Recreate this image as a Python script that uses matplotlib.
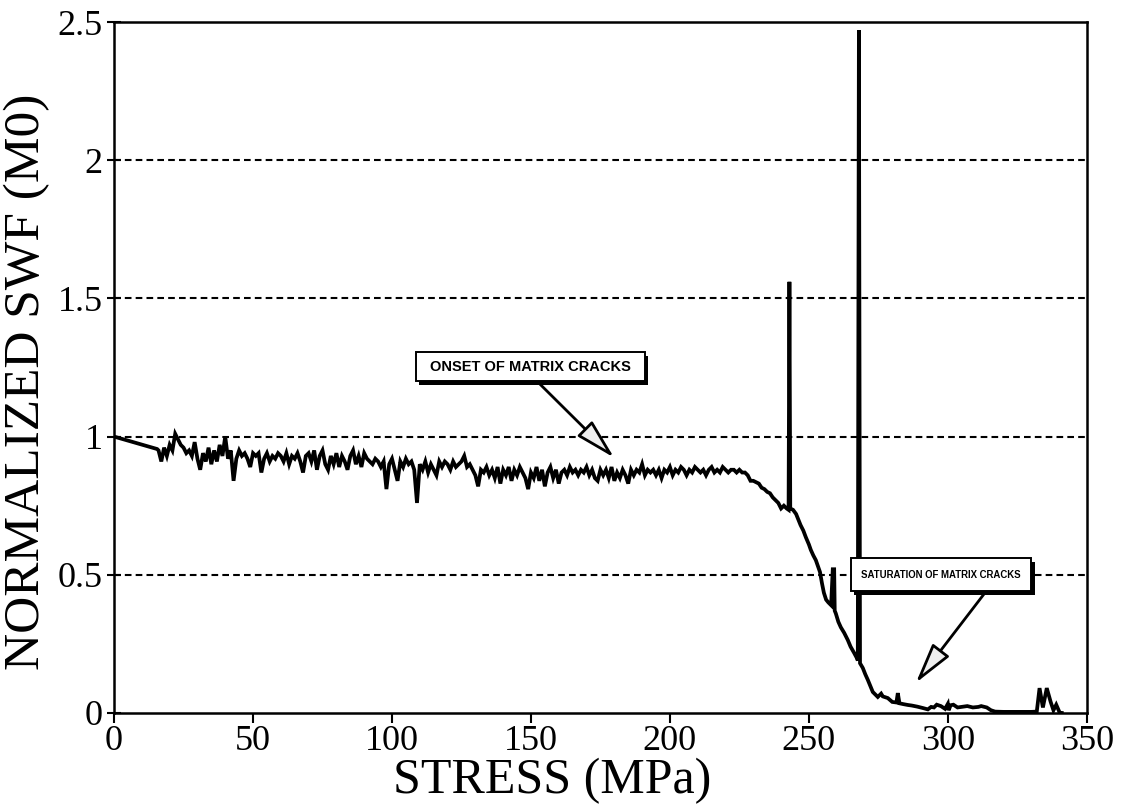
import matplotlib
matplotlib.use("Agg")
import matplotlib.pyplot as plt
import matplotlib.patheffects as pe
from matplotlib.patches import Rectangle
import numpy as np

# Normalized strain-wave-factor (M0) vs applied stress, three stretches of the record.
plateau_stress = [
    0, 15.5, 16, 17, 18, 19, 20, 21, 22, 23, 24, 25, 26, 27, 28, 29, 30, 31, 32, 33,
    34, 35, 36, 37, 38, 39, 40, 41, 42, 43, 44, 45, 46, 47, 48, 49, 50, 51, 52, 53,
    54, 55, 56, 57, 58, 59, 60, 61, 62, 63, 64, 65, 66, 67, 68, 69, 70, 71, 72, 73,
    74, 75, 76, 77, 78, 79, 80, 81, 82, 83, 84, 85, 86, 87, 88, 89, 90, 91, 92, 93,
    94, 95, 96, 97, 98, 99, 100, 101, 102, 103, 104, 105, 106, 107, 108, 109, 110, 111, 112, 113,
    114, 115, 116, 117, 118, 119, 120, 121, 122, 123, 124, 125, 126, 127, 128, 129, 130, 131, 132, 133,
    134, 135, 136, 137, 138, 139, 140, 141, 142, 143, 144, 145, 146, 147, 148, 149, 150, 151, 152, 153,
    154, 155, 156, 157, 158, 159, 160, 161, 162, 163, 164, 165, 166, 167, 168, 169, 170, 171, 172, 173,
    174, 175, 176, 177, 178, 179, 180, 181, 182, 183, 184, 185, 186, 187, 188, 189, 190, 191, 192, 193,
    194, 195, 196, 197, 198, 199, 200, 201, 202, 203, 204, 205, 206, 207, 208, 209, 210, 211, 212, 213,
    214, 215, 216, 217, 218, 219, 220, 221, 222, 223, 224, 225, 226, 227, 228,
]
plateau_swf = [
    1.00, 0.955, 0.95, 0.91, 0.96, 0.93, 0.97, 0.95, 1.01, 0.99, 0.97, 0.96, 0.94, 0.95, 0.93, 0.98, 0.92, 0.88, 0.94, 0.91,
    0.96, 0.90, 0.95, 0.91, 0.97, 0.93, 1.00, 0.92, 0.95, 0.84, 0.92, 0.95, 0.93, 0.94, 0.92, 0.89, 0.94, 0.93, 0.94, 0.87,
    0.92, 0.94, 0.91, 0.93, 0.92, 0.94, 0.93, 0.91, 0.94, 0.90, 0.93, 0.92, 0.94, 0.91, 0.87, 0.93, 0.94, 0.91, 0.95, 0.88,
    0.93, 0.95, 0.90, 0.88, 0.93, 0.90, 0.94, 0.89, 0.93, 0.91, 0.88, 0.93, 0.95, 0.90, 0.93, 0.89, 0.94, 0.92, 0.91, 0.90,
    0.92, 0.91, 0.89, 0.91, 0.81, 0.90, 0.92, 0.88, 0.84, 0.91, 0.89, 0.92, 0.90, 0.91, 0.88, 0.76, 0.90, 0.88, 0.91, 0.87,
    0.90, 0.88, 0.86, 0.91, 0.89, 0.91, 0.90, 0.88, 0.91, 0.89, 0.90, 0.91, 0.93, 0.89, 0.90, 0.88, 0.86, 0.82, 0.88, 0.87,
    0.89, 0.86, 0.88, 0.85, 0.89, 0.83, 0.88, 0.86, 0.89, 0.84, 0.88, 0.86, 0.89, 0.87, 0.85, 0.81, 0.87, 0.85, 0.89, 0.84,
    0.88, 0.82, 0.87, 0.89, 0.85, 0.88, 0.83, 0.87, 0.88, 0.86, 0.89, 0.87, 0.88, 0.86, 0.88, 0.87, 0.89, 0.86, 0.88, 0.85,
    0.84, 0.88, 0.86, 0.88, 0.85, 0.89, 0.84, 0.87, 0.85, 0.88, 0.86, 0.83, 0.88, 0.86, 0.88, 0.87, 0.90, 0.86, 0.88, 0.87,
    0.88, 0.86, 0.88, 0.85, 0.88, 0.87, 0.89, 0.86, 0.88, 0.87, 0.89, 0.88, 0.86, 0.88, 0.87, 0.89, 0.88, 0.87, 0.88, 0.86,
    0.88, 0.89, 0.87, 0.88, 0.87, 0.89, 0.88, 0.87, 0.88, 0.88, 0.87, 0.88, 0.87, 0.87, 0.86,
]

knee_stress = [
    229, 230, 231, 232, 233, 234, 235, 236, 237, 238, 239, 240, 241, 242, 242.7, 243.0, 243.3, 244.3, 245.4, 246.2,
    247, 248, 248.9, 250, 250.7, 251.6, 252.5, 253.3, 254, 254.7, 255.4, 256.2, 257, 258, 258.6, 259.1, 259.3, 259.7, 260.6, 261.5,
    262.7, 264, 265, 266.3, 267.2, 267.6, 268.0, 268.4, 269.4, 270.3, 271.2, 272, 273, 274, 274.8, 276, 276.6, 277.5, 278.4, 280,
    281.5, 282, 282.6, 284, 285.6, 287, 289, 291, 292.8, 294, 295,
]
knee_swf = [
    0.84, 0.84, 0.835, 0.83, 0.815, 0.81, 0.80, 0.795, 0.78, 0.77, 0.76, 0.74, 0.75, 0.74, 0.735, 1.56, 0.74, 0.735, 0.72, 0.70,
    0.68, 0.66, 0.636, 0.61, 0.59, 0.57, 0.553, 0.53, 0.51, 0.47, 0.435, 0.41, 0.40, 0.39, 0.52, 0.52, 0.37, 0.36, 0.33, 0.31,
    0.29, 0.264, 0.24, 0.217, 0.20, 0.19, 2.47, 0.18, 0.163, 0.14, 0.12, 0.10, 0.076, 0.066, 0.058, 0.07, 0.06, 0.057, 0.054, 0.04,
    0.038, 0.072, 0.035, 0.032, 0.029, 0.027, 0.023, 0.018, 0.013, 0.022, 0.02,
]

tail_stress = [
    296, 297.5, 299, 300, 300.3, 301, 302, 303.5, 305, 307, 309, 311, 312, 314, 315.5, 317, 320, 325, 330, 332,
    333, 334.2, 335.6, 337, 338, 339, 340.3, 341,
]
tail_swf = [
    0.03, 0.025, 0.015, 0.033, 0.01, 0.028, 0.03, 0.02, 0.022, 0.025, 0.02, 0.022, 0.025, 0.02, 0.01, 0.005, 0.004, 0.004, 0.004, 0.005,
    0.09, 0.02, 0.09, 0.04, 0.01, 0.03, 0.0, 0.0,
]

stress = np.array(plateau_stress + knee_stress + tail_stress)
swf = np.array(plateau_swf + knee_swf + tail_swf)

y_grid = [0.5, 1.0, 1.5, 2.0]
x_ticks = [0, 50, 100, 150, 200, 250, 300, 350]
y_ticks = [0, 0.5, 1, 1.5, 2, 2.5]
y_tick_labels = ["0", "0.5", "1", "1.5", "2", "2.5"]

# callout boxes: (x0, y0, width, height) in data units, arrow start as box fraction, arrow tip
onset_text = "ONSET OF MATRIX CRACKS"
onset_box = (108.5, 1.2, 82.5, 0.105)
onset_relx = 0.53
onset_tip = (179.9, 0.924)

sat_text = "SATURATION OF MATRIX CRACKS"
sat_box = (265.0, 0.44, 65.0, 0.12)
sat_relx = 0.75
sat_tip = (288.5, 0.109)

plt.rcParams["font.family"] = ["Liberation Serif", "DejaVu Serif"]

fig = plt.figure(figsize=(11.44, 8.06), dpi=100)
ax = fig.add_axes([0.0997, 0.1154, 0.8503, 0.8573])

for yg in y_grid:
    ax.axhline(yg, color="black", lw=1.5, ls=(0, (3.2, 2.0)), zorder=1)

ax.plot(stress, swf, color="black", lw=2.7, solid_joinstyle="miter", zorder=3)

ax.set_xlim(0, 350)
ax.set_ylim(0, 2.5)
ax.set_xticks(x_ticks)
ax.set_yticks(y_ticks)
ax.set_yticklabels(y_tick_labels)
ax.tick_params(axis="x", direction="out", length=7, width=1.5, labelsize=26, pad=2)
ax.tick_params(axis="y", direction="inout", length=10, width=1.5, labelsize=26, pad=3)
for sp in ax.spines.values():
    sp.set_linewidth(1.8)

ax.set_xlabel("STRESS (MPa)", fontsize=36)
ax.set_ylabel("NORMALIZED SWF (M0)", fontsize=37)
ax.xaxis.set_label_coords(0.45, -0.064)
ax.yaxis.set_label_coords(-0.066, 0.48)


def callout(text, box, relx, tip, fs):
    x0, y0, w, h = box
    rect = Rectangle((x0, y0), w, h, facecolor="white", edgecolor="black", lw=1.4, zorder=5)
    rect.set_path_effects([
        pe.SimplePatchShadow(offset=(2.5, -2.5), shadow_rgbFace="black", alpha=1.0),
        pe.Normal(),
    ])
    ax.add_patch(rect)
    ax.text(x0 + w / 2, y0 + h / 2, text, ha="center", va="center", fontsize=fs,
            family=["Liberation Sans", "DejaVu Sans"], fontweight="bold", zorder=6)
    ax.annotate(
        "", xy=tip, xytext=(x0 + relx * w, y0),
        arrowprops=dict(arrowstyle="-|>,head_length=2.5,head_width=0.65",
                        mutation_scale=10, lw=2.0, fc="#eeeeee", ec="black",
                        shrinkA=0, shrinkB=0),
        zorder=4,
    )


callout(onset_text, onset_box, onset_relx, onset_tip, 10.5)
callout(sat_text, sat_box, sat_relx, sat_tip, 6.9)

fig.savefig("out.png", dpi=100, facecolor="white")
